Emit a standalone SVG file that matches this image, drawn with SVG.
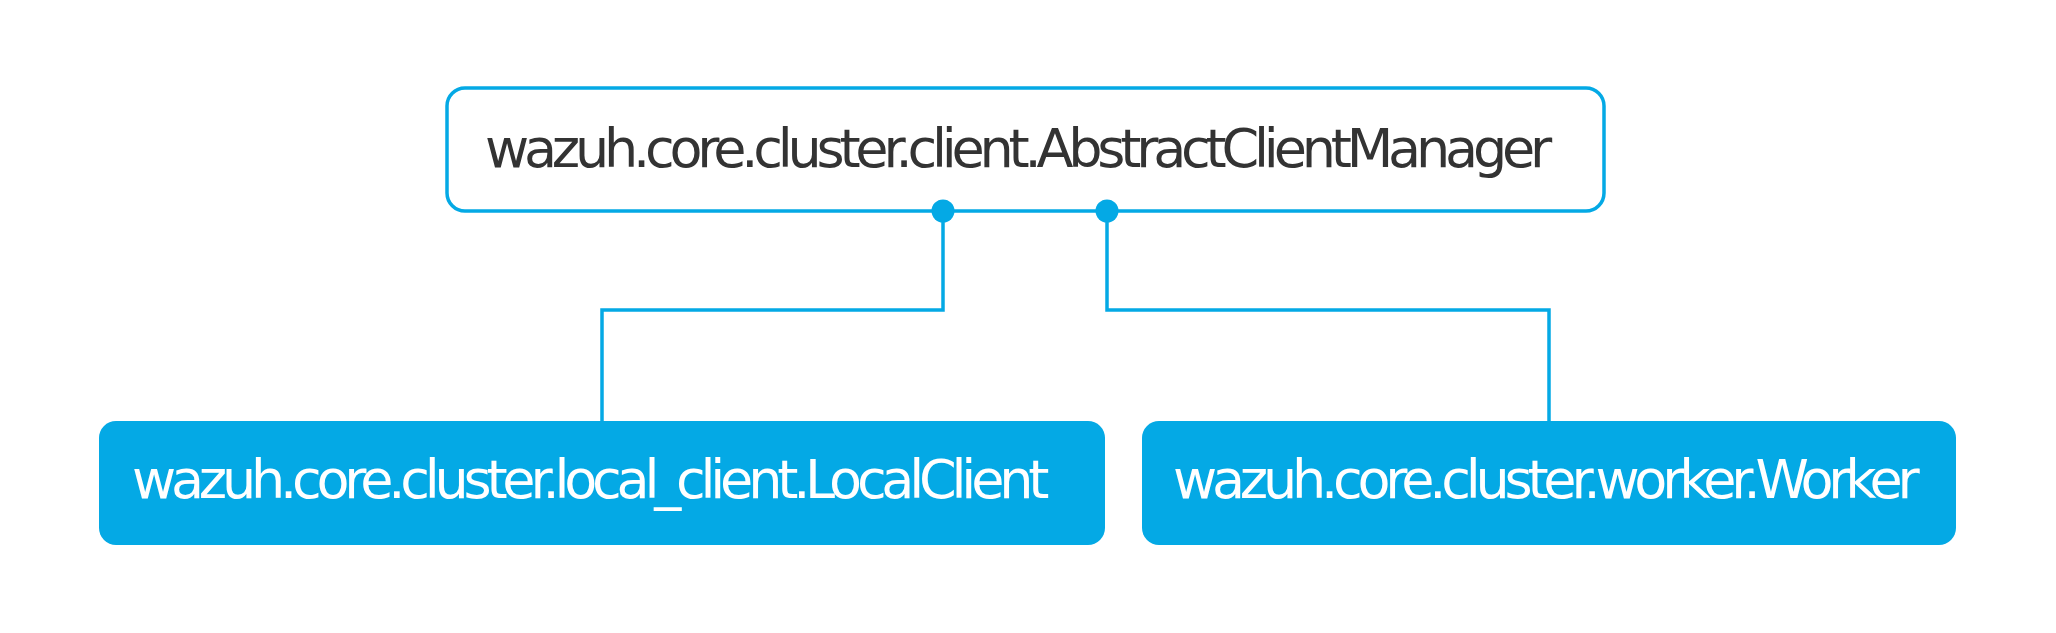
<svg xmlns="http://www.w3.org/2000/svg" width="2056" height="633" viewBox="0 0 2056 633">
<style>
.lbl{font-family:"DejaVu Sans","Liberation Sans",sans-serif;font-size:54px;letter-spacing:-5.2px}
.dark{fill:#333333}
.light{fill:#ffffff}
.edge{fill:none;stroke:#04A9E5;stroke-width:3.5}
.dot{fill:#04A9E5}
.box{fill:#04A9E5}
</style>
<rect x="0" y="0" width="2056" height="633" fill="#ffffff"/>
<g id="node-abstract">
<rect x="447" y="88" width="1157" height="123" rx="18" fill="#ffffff" stroke="#04A9E5" stroke-width="3.5"/>
<text class="lbl dark" x="485" y="167">wazuh.core.cluster.client.AbstractClientManager</text>
</g>
<g id="node-localclient">
<rect class="box" x="99" y="421" width="1006" height="124" rx="17"/>
<text class="lbl light" x="132" y="498">wazuh.core.cluster.local_client.LocalClient</text>
</g>
<g id="node-worker">
<rect class="box" x="1142" y="421" width="814" height="124" rx="17"/>
<text class="lbl light" x="1173" y="498">wazuh.core.cluster.worker.Worker</text>
</g>
<g id="connectors">
<path class="edge" d="M943 211 V310 H602 V421"/>
<path class="edge" d="M1107 211 V310 H1549 V421"/>
<circle class="dot" cx="943" cy="211" r="11.5"/>
<circle class="dot" cx="1107" cy="211" r="11.5"/>
</g>
</svg>
